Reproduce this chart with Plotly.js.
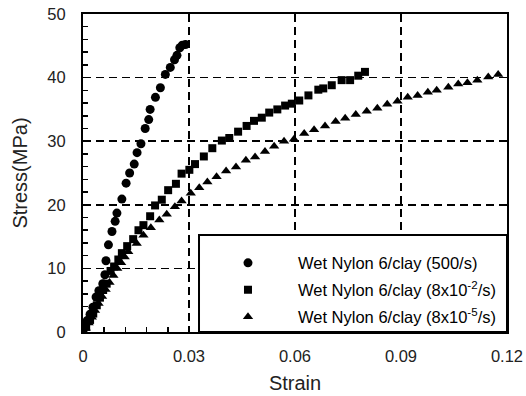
<!DOCTYPE html>
<html>
<head>
<meta charset="utf-8">
<script src="https://cdn.plot.ly/plotly-3.0.1.min.js"></script>
<style>html,body{margin:0;padding:0;background:#fff;}#chart{width:526px;height:396px;}</style>
</head>
<body>
<div id="chart"></div>
<script>
// Wet Nylon 6/clay, 500/s (circles)
const strainA = [0, 0.0006, 0.0012, 0.002, 0.0028, 0.0037, 0.0045, 0.0056, 0.0062, 0.0065, 0.0072, 0.0082, 0.0091, 0.0096, 0.011, 0.0122, 0.0132, 0.0145, 0.0153, 0.0164, 0.0176, 0.0186, 0.019, 0.0205, 0.0219, 0.0233, 0.0247, 0.0259, 0.0266, 0.0274, 0.0281, 0.029];
const stressA = [0.2, 1.0, 1.8, 2.8, 3.9, 5.5, 6.5, 7.6, 9.0, 11.2, 13.7, 15.8, 17.4, 18.7, 20.9, 23.4, 25.0, 26.4, 28.2, 29.6, 32.0, 33.4, 35.0, 36.9, 38.4, 40.5, 41.6, 42.8, 43.5, 44.7, 45.1, 45.2];

// Wet Nylon 6/clay, 8x10^-2/s (squares)
const strainB = [0, 0.0009, 0.002, 0.0029, 0.0039, 0.0048, 0.0057, 0.0067, 0.0078, 0.0088, 0.01, 0.011, 0.0125, 0.0142, 0.0157, 0.0171, 0.019, 0.0204, 0.0223, 0.0241, 0.0263, 0.0279, 0.0301, 0.0317, 0.0342, 0.0366, 0.0393, 0.0414, 0.0439, 0.0463, 0.0484, 0.0506, 0.0527, 0.055, 0.0572, 0.0591, 0.0612, 0.0638, 0.0666, 0.068, 0.0704, 0.0732, 0.0756, 0.0779, 0.0798];
const stressB = [0.05, 0.8, 1.9, 2.9, 4.2, 5.4, 6.6, 7.6, 9.6, 10.3, 11.4, 12.4, 13.5, 14.6, 16.0, 16.8, 18.2, 19.9, 20.8, 22.3, 23.3, 24.9, 25.5, 26.4, 27.6, 28.9, 30.1, 30.5, 31.5, 32.4, 33.2, 33.7, 34.5, 35.0, 35.6, 35.9, 36.4, 37.2, 38.1, 38.3, 38.8, 39.6, 39.6, 40.3, 40.9];

// Wet Nylon 6/clay, 8x10^-5/s (triangles)
const strainC = [0, 0.0008, 0.0016, 0.0025, 0.0034, 0.0044, 0.0054, 0.0064, 0.0075, 0.0086, 0.0097, 0.0108, 0.0118, 0.0128, 0.0152, 0.0171, 0.0192, 0.0216, 0.0237, 0.026, 0.0279, 0.0305, 0.0329, 0.0352, 0.0378, 0.0405, 0.0433, 0.0461, 0.0487, 0.0515, 0.0541, 0.0569, 0.0597, 0.0626, 0.0654, 0.0685, 0.0715, 0.0742, 0.0772, 0.0803, 0.0833, 0.0861, 0.089, 0.0919, 0.0947, 0.0976, 0.1001, 0.1034, 0.1062, 0.1088, 0.1116, 0.1147, 0.1175];
const stressC = [0, 0.6, 1.4, 2.3, 3.4, 4.5, 5.6, 6.7, 7.8, 8.9, 10.0, 10.9, 11.8, 12.6, 13.9, 15.2, 16.4, 17.6, 18.5, 19.7, 20.6, 21.8, 22.7, 23.6, 24.4, 25.3, 25.95, 27.0, 27.5, 28.4, 29.2, 30.0, 30.3, 31.2, 31.8, 32.4, 33.1, 33.6, 34.2, 34.7, 35.2, 35.8, 36.3, 36.9, 37.2, 37.7, 38.0, 38.5, 39.0, 39.2, 39.6, 40.1, 40.5];

const seriesNames = [
  'Wet Nylon 6/clay (500/s)',
  'Wet Nylon 6/clay (8x10<sup>-2</sup>/s)',
  'Wet Nylon 6/clay (8x10<sup>-5</sup>/s)'
];
const xTickVals = [0, 0.03, 0.06, 0.09, 0.12];
const xTickText = ['0', '0.03', '0.06', '0.09', '0.12'];
const yTickVals = [0, 10, 20, 30, 40, 50];

const FONT = 'Liberation Sans, Arial, sans-serif';

const traces = [
  {x: strainA, y: stressA, name: seriesNames[0], type: 'scatter', mode: 'markers',
   marker: {symbol: 'circle', size: 9, color: '#000'}, legend: 'legend'},
  {x: strainB, y: stressB, name: seriesNames[1], type: 'scatter', mode: 'markers',
   marker: {symbol: 'square', size: 8, color: '#000'}, legend: 'legend2'},
  {x: strainC, y: stressC, name: seriesNames[2], type: 'scatter', mode: 'markers',
   marker: {symbol: 'triangle-up', size: 9, color: '#000'}, legend: 'legend3'}
];

const legBase = {
  xref: 'paper', yref: 'paper', x: 0.2712, xanchor: 'left', yanchor: 'middle',
  bgcolor: 'rgba(0,0,0,0)', borderwidth: 0, itemwidth: 90,
  font: {family: FONT, size: 16.5, color: '#000'}
};

const layout = {
  width: 526, height: 396,
  margin: {l: 83, r: 19, t: 13.5, b: 64, pad: 0},
  paper_bgcolor: '#fff', plot_bgcolor: '#fff',
  font: {family: FONT, color: '#000'},
  showlegend: true,
  legend: Object.assign({}, legBase, {y: 0.2166}),
  legend2: Object.assign({}, legBase, {y: 0.1319}),
  legend3: Object.assign({}, legBase, {y: 0.0471}),
  xaxis: {
    range: [0, 0.12], tickvals: xTickVals, ticktext: xTickText,
    ticks: 'inside', ticklen: 5, tickwidth: 1.5, tickcolor: '#000',
    minor: {dtick: 0.006, tick0: 0, ticks: 'inside', ticklen: 5, tickwidth: 1.5, tickcolor: '#000', showgrid: false},
    showline: true, linecolor: '#000', linewidth: 2, mirror: true,
    showgrid: true, gridcolor: '#000', gridwidth: 1.5, griddash: '8px,5px',
    zeroline: false,
    tickfont: {family: FONT, size: 16.5, color: '#222'},
    ticklabelstandoff: 8,
    title: {text: 'Strain', font: {family: FONT, size: 20, color: '#222'}, standoff: 12}
  },
  yaxis: {
    range: [0, 50], tickvals: yTickVals,
    ticks: 'inside', ticklen: 5, tickwidth: 1.5, tickcolor: '#000',
    minor: {dtick: 2, tick0: 0, ticks: 'inside', ticklen: 5, tickwidth: 1.5, tickcolor: '#000', showgrid: false},
    showline: true, linecolor: '#000', linewidth: 2, mirror: true,
    showgrid: true, gridcolor: '#000', gridwidth: 1.5, griddash: '8px,5px',
    zeroline: false,
    tickfont: {family: FONT, size: 16.5, color: '#222'},
    ticklabelstandoff: 12,
    title: {text: 'Stress(MPa)', font: {family: FONT, size: 20, color: '#222'}, standoff: 14}
  },
  shapes: [{
    type: 'rect', xref: 'paper', yref: 'paper', x0: 0.2736, x1: 1, y0: 0, y1: 0.305,
    fillcolor: '#fff', line: {color: '#000', width: 2}, layer: 'above'
  }]
};

Plotly.newPlot('chart', traces, layout, {displayModeBar: false, staticPlot: true});
</script>
</body>
</html>
